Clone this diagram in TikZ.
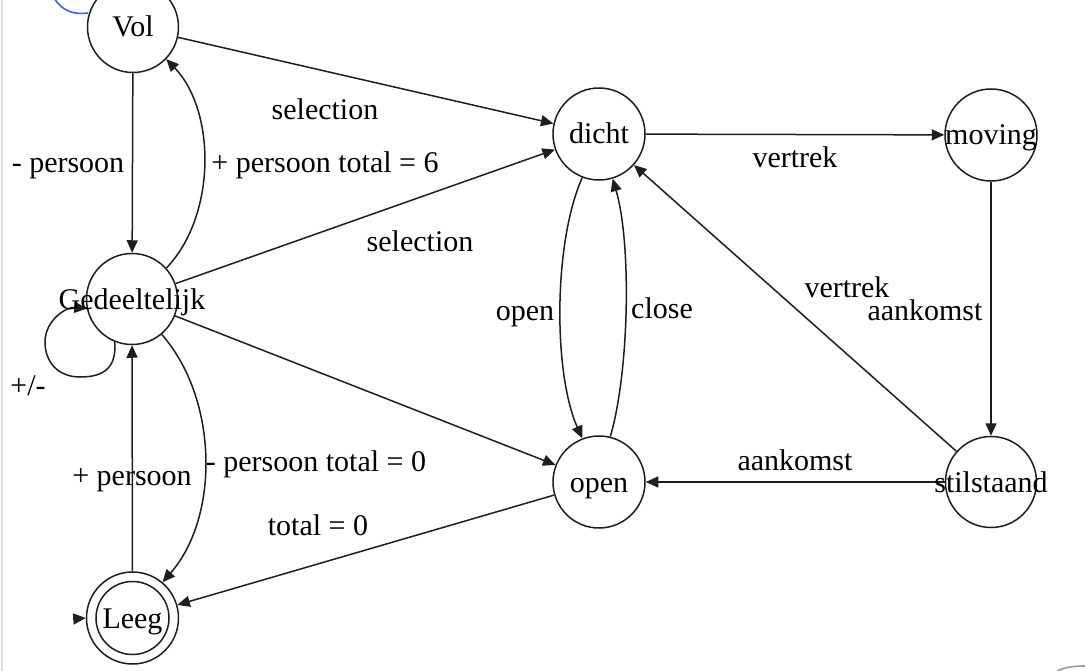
\documentclass[tikz,border=0pt]{standalone}
\usepackage{fontspec}
\setmainfont{Liberation Serif}
\usetikzlibrary{arrows.meta}
\definecolor{linecol}{RGB}{30,30,30}
\definecolor{selblue}{RGB}{70,90,245}
\tikzset{
  state/.style={draw=linecol, line width=1.5pt, circle, minimum size=#1, inner sep=0pt, fill=white},
  state/.default=91pt,
  arr/.style={draw=linecol, line width=1.5pt, -{Triangle[length=12.5pt,width=11pt]}},
  lbl/.style={inner sep=0pt, text=black, anchor=base},
}
\begin{document}
\begin{tikzpicture}[x=1pt,y=-1pt, font=\fontsize{30}{36}\selectfont]
\useasboundingbox (0,0) rectangle (1085,671);
\fill[white] (0,0) rectangle (1085,671);
\draw[gray!25, line width=2pt] (2,0) -- (2,671);
% decorations
\draw[selblue, line width=1.6pt] (54,-2) .. controls (62,11) and (74,15) .. (88,13);
\draw[gray!80, line width=1.6pt] (1057,671) .. controls (1065,667) and (1075,666) .. (1085,666);
% states
\node[state] (vol) at (133,27) {};
\node[lbl] at ([yshift=-10pt]vol.center) {Vol};
\node[state] (ged) at (132,299) {};
\node[state] (leeg) at (132.5,618) [minimum size=92pt] {};
\draw[linecol, line width=1.5pt] (leeg.center) circle (36.5);
\node[lbl] at ([yshift=-10pt]leeg.center) {Leeg};
\node[state] (dicht) at (599,134) [minimum size=92pt] {};
\node[lbl] at ([yshift=-10pt]dicht.center) {dicht};
\node[state] (open) at (599,482) [minimum size=92pt] {};
\node[lbl] at ([yshift=-10pt]open.center) {open};
\node[state] (moving) at (991,135) [minimum size=92pt] {};
\node[state] (stil) at (991,482) [minimum size=91pt] {};
% edges
\draw[arr] (vol) -- (ged);
\draw[arr] (ged.42) .. controls +(50,-52) and +(50,52) .. (vol.-44);
\draw[arr] (vol) -- (dicht);
\draw[arr] (ged) -- (dicht);
\draw[arr] (ged) -- (open);
\draw[arr] (ged.-50) .. controls +(57,65) and +(57,-65) .. (leeg.50);
\draw[arr] (leeg) -- (ged);
\draw[arr] (open) -- (leeg);
\draw[arr] (ged.-112) .. controls +(2,25) and +(25,0) .. (80,377)
  .. controls +(-22,0) and +(0,20) .. (45,342)
  .. controls +(0,-22) and +(-20,-2) .. (ged.-168);
\coordinate (init) at (73,619);
\draw[arr] (init) -- (leeg.west);
\draw[arr] (dicht.-111) .. controls +(-29,65) and +(-29,-65) .. (open.111);
\draw[arr] (open.76) .. controls +(19,-65) and +(19,65) .. (dicht.-73);
\draw[arr] (dicht) -- (moving);
\draw[arr] (moving) -- (stil);
\draw[arr] (stil) -- (dicht);
\draw[arr] (stil) -- (open);
% texts overflowing circles
\node[lbl] at ([yshift=-10pt]ged.center) {Gedeeltelijk};
\node[lbl] at ([yshift=-10pt]moving.center) {moving};
\node[lbl] at ([yshift=-10pt]stil.center) {stilstaand};
% labels
\node[lbl] at (68,173) {- persoon};
\node[lbl] at (325,173) {+ persoon total = 6};
\node[lbl] at (325,120) {selection};
\node[lbl] at (420,252) {selection};
\node[lbl] at (525,320) {open};
\node[lbl] at (662,319) {close};
\node[lbl] at (795,168) {vertrek};
\node[lbl] at (847,298) {vertrek};
\node[lbl] at (925,320) {aankomst};
\node[lbl] at (795,470) {aankomst};
\node[lbl] at (28,395) {+/-};
\node[lbl] at (132,485) {+ persoon};
\node[lbl] at (316,471) {- persoon total = 0};
\node[lbl] at (318,535) {total = 0};
\end{tikzpicture}
\end{document}
